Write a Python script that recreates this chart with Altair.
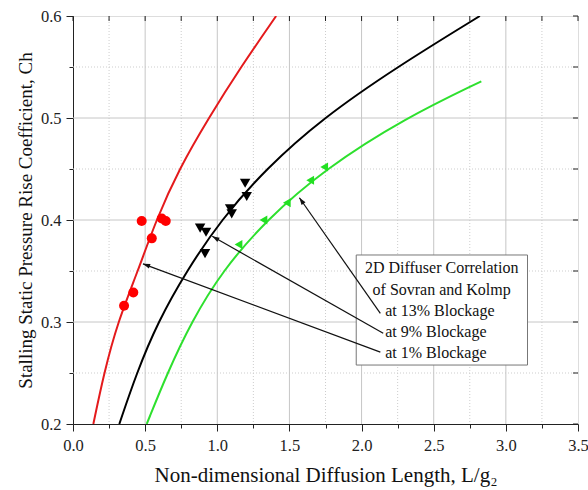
import math
import altair as alt
import pandas as pd

# ---- data ----
red_curve_x = [0.141, 0.215, 0.31, 0.45, 0.576, 0.735, 0.94, 1.163, 1.408]
red_curve_y = [0.2, 0.25, 0.3, 0.35, 0.4, 0.45, 0.5, 0.55, 0.6]
black_curve_x = [0.321, 0.441, 0.588, 0.787, 1.025, 1.335, 1.732, 2.245, 2.82]
black_curve_y = [0.2, 0.25, 0.3, 0.35, 0.4, 0.45, 0.5, 0.55, 0.6]
green_curve_x = [0.511, 0.654, 0.82, 1.034, 1.34, 1.745, 2.303, 2.83]
green_curve_y = [0.2, 0.25, 0.3, 0.35, 0.4, 0.45, 0.5, 0.536]

red_pts_x = [0.354, 0.418, 0.476, 0.546, 0.615, 0.643]
red_pts_y = [0.316, 0.329, 0.399, 0.382, 0.4015, 0.399]
black_pts_x = [0.881, 0.922, 0.915, 1.089, 1.10, 1.193, 1.204]
black_pts_y = [0.392, 0.388, 0.367, 0.411, 0.406, 0.436, 0.423]
green_pts_x = [1.147, 1.32, 1.482, 1.644, 1.741]
green_pts_y = [0.376, 0.40, 0.417, 0.439, 0.452]

x_major = [0.0, 0.5, 1.0, 1.5, 2.0, 2.5, 3.0, 3.5]
x_minor = [0.25, 0.75, 1.25, 1.75, 2.25, 2.75, 3.25]
y_major = [0.2, 0.3, 0.4, 0.5, 0.6]
y_minor = [0.25, 0.35, 0.45, 0.55]

note_lines = ["2D Diffuser Correlation", "of Sovran and Kolmp",
              "at 13% Blockage", "at 9% Blockage", "at 1% Blockage"]
note_x = [2.555, 2.555, 2.164, 2.164, 2.164]
note_y = [0.3527, 0.3314, 0.3108, 0.2905, 0.2693]
note_align = ["center", "center", "left", "left", "left"]
box_x = [1.963]; box_x2 = [3.15]; box_y = [0.3657]; box_y2 = [0.2578]

arrow_tip_x = [1.569, 0.965, 0.485]
arrow_tip_y = [0.4218, 0.384, 0.357]
arrow_tail_x = [2.13, 2.15, 2.13]
arrow_tail_y = [0.3085, 0.289, 0.2705]

W, H = 505, 408
XD, YD = [0, 3.5], [0.2, 0.6]
FONT = "Liberation Serif"

xs = alt.Scale(domain=XD, nice=False, zero=False)
ys = alt.Scale(domain=YD, nice=False, zero=False)
NX = alt.X("x:Q", scale=xs, axis=None)
NY = alt.Y("y:Q", scale=ys, axis=None)

# grid lines
vgrid_major = alt.Chart(pd.DataFrame({"x": x_major[1:-1]})).mark_rule(
    color="#c6c6c6", strokeWidth=1).encode(x=NX)
hgrid_major = alt.Chart(pd.DataFrame({"y": y_major[1:-1]})).mark_rule(
    color="#c6c6c6", strokeWidth=1).encode(y=NY)
vgrid_minor = alt.Chart(pd.DataFrame({"x": x_minor})).mark_rule(
    color="#cdcdcd", strokeWidth=1, strokeDash=[1, 2]).encode(x=NX)
hgrid_minor = alt.Chart(pd.DataFrame({"y": y_minor})).mark_rule(
    color="#cdcdcd", strokeWidth=1, strokeDash=[1, 2]).encode(y=NY)

curves = pd.DataFrame({
    "x": red_curve_x + black_curve_x + green_curve_x,
    "y": red_curve_y + black_curve_y + green_curve_y,
    "s": ["red"] * len(red_curve_x) + ["black"] * len(black_curve_x) + ["green"] * len(green_curve_x),
    "o": list(range(len(red_curve_x))) + list(range(len(black_curve_x))) + list(range(len(green_curve_x))),
})

line = alt.Chart(curves).mark_line(strokeWidth=2, interpolate="basis", clip=True).encode(
    x=alt.X("x:Q", scale=xs, axis=alt.Axis(
        orient="bottom", values=x_major, format=".1f", labelFlush=False,
        title="Non-dimensional Diffusion Length, L/g₂",
        grid=False, tickSize=7, tickColor="#222", domainColor="#222",
        labelFont=FONT, labelFontSize=16.5, labelColor="#222", labelPadding=6,
        titleFont=FONT, titleFontSize=21, titleFontWeight="normal", titleColor="#111",
        titlePadding=11)),
    y=alt.Y("y:Q", scale=ys, axis=alt.Axis(
        orient="left", values=y_major, format=".1f", labelFlush=False,
        title="Stalling Static Pressure Rise Coefficient, Ch",
        grid=False, tickSize=7, tickColor="#222", domainColor="#222",
        labelFont=FONT, labelFontSize=16.5, labelColor="#222", labelPadding=5,
        titleFont=FONT, titleFontSize=19, titleFontWeight="normal", titleColor="#111",
        titlePadding=5)),
    color=alt.Color("s:N", scale=alt.Scale(domain=["red", "black", "green"],
                                           range=["#e41a1c", "#000000", "#2ee02e"]), legend=None),
    detail="s:N",
    order="o:Q",
)

minor = alt.Chart(pd.DataFrame({"x": x_minor[:4], "y": y_minor})).mark_point(opacity=0).encode(
    x=alt.X("x:Q", scale=xs, axis=alt.Axis(
        orient="bottom", values=x_minor, labels=False, title=None, domain=False,
        grid=False, tickSize=4, tickColor="#222")),
    y=alt.Y("y:Q", scale=ys, axis=alt.Axis(
        orient="left", values=y_minor, labels=False, title=None, domain=False,
        grid=False, tickSize=4, tickColor="#222")),
)

top_ticks = alt.Chart(pd.DataFrame({"x": x_major + x_minor})).mark_rule(color="#222").encode(
    x=NX, y=alt.value(0), y2=alt.value(5))
right_ticks = alt.Chart(pd.DataFrame({"y": y_major + y_minor})).mark_rule(color="#222").encode(
    y=NY, x=alt.value(W), x2=alt.value(W - 5))

red_pts = alt.Chart(pd.DataFrame({"x": red_pts_x, "y": red_pts_y})).mark_point(
    shape="circle", filled=True, size=100, color="#ff0000", opacity=1).encode(x=NX, y=NY)
black_pts = alt.Chart(pd.DataFrame({"x": black_pts_x, "y": black_pts_y})).mark_point(
    shape="triangle-down", filled=True, size=110, color="#000000", opacity=1).encode(x=NX, y=NY)
green_pts = alt.Chart(pd.DataFrame({"x": green_pts_x, "y": green_pts_y})).mark_point(
    shape="triangle-left", filled=True, size=80, color="#22e022", opacity=1).encode(x=NX, y=NY)

box = alt.Chart(pd.DataFrame({"x": box_x, "x2": box_x2, "y": box_y, "y2": box_y2})).mark_rect(
    fill="white", stroke="#777", strokeWidth=1).encode(
    x=NX, x2="x2:Q", y=NY, y2="y2:Q")

# arrow angle in screen space (style only)
def ang(tx, ty, hx, hy):
    dx = (hx - tx) * W / (XD[1] - XD[0])
    dy = -(hy - ty) * H / (YD[1] - YD[0])
    return (math.degrees(math.atan2(dx, -dy)) + 360) % 360

arrows = pd.DataFrame({
    "x": arrow_tip_x, "y": arrow_tip_y, "x2": arrow_tail_x, "y2": arrow_tail_y,
    "a": [ang(t, u, h, k) for t, u, h, k in zip(arrow_tail_x, arrow_tail_y, arrow_tip_x, arrow_tip_y)],
})
arrow_lines = alt.Chart(arrows).mark_rule(color="#111", strokeWidth=1.2).encode(
    x=NX, x2="x2:Q", y=NY, y2="y2:Q")
arrow_heads = alt.Chart(arrows).mark_point(
    shape="M0,0L-0.8,2.4L0.8,2.4Z", filled=True, color="#111", size=36, opacity=1).encode(
    x=NX, y=NY, angle=alt.Angle("a:Q", scale=None))

notes = pd.DataFrame({"x": note_x, "y": note_y, "t": note_lines, "al": note_align})
notes_c = alt.Chart(notes[notes.al == "center"]).mark_text(
    font=FONT, fontSize=16, color="#111", align="center", baseline="middle").encode(
    x=NX, y=NY, text="t:N")
notes_l = alt.Chart(notes[notes.al == "left"]).mark_text(
    font=FONT, fontSize=16, color="#111", align="left", baseline="middle").encode(
    x=NX, y=NY, text="t:N")

chart = alt.layer(
    vgrid_minor, hgrid_minor, vgrid_major, hgrid_major,
    line, minor, top_ticks, right_ticks, red_pts, black_pts, green_pts,
    box, arrow_lines, arrow_heads, notes_c, notes_l,
).resolve_axis(x="independent", y="independent").properties(
    width=W, height=H,
    autosize=alt.AutoSizeParams(type="none"),
    padding={"left": 73, "top": 16, "right": 10, "bottom": 66},
).configure_view(stroke="#222", strokeWidth=1.2).configure(background="white")

chart.save("out.html", embed_options={"renderer": "svg", "actions": False})
